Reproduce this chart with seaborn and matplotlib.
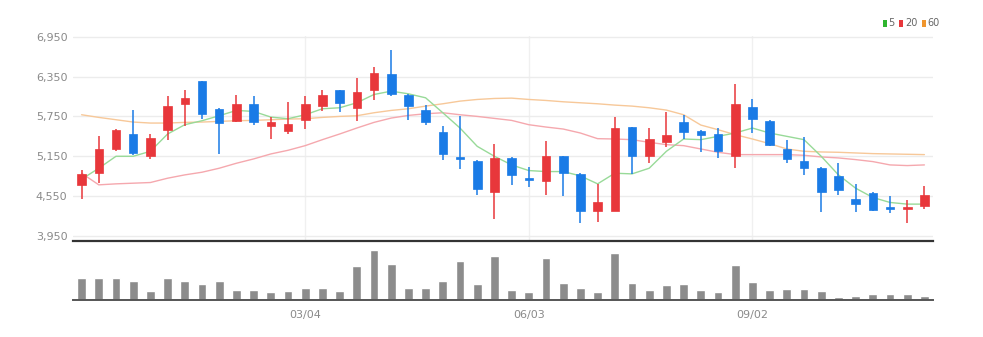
import numpy as np
import pandas as pd
import matplotlib
matplotlib.use("Agg")
import matplotlib.pyplot as plt
from matplotlib.patches import Rectangle
import seaborn as sns

# Weekly candles (KRW)
start_date = "2023-12-04"
n_weeks = 50
opens = [4720, 4905, 5255, 5485, 5150, 5550, 5930, 6285, 5865, 5685,
         5930, 5600, 5525, 5690, 5900, 6145, 5870, 6145, 6390, 6070,
         5840, 5510, 5135, 5085, 4605, 5130, 4830, 4780, 5155, 4880,
         4330, 4330, 5585, 5155, 5365, 5665, 5535, 5485, 5150, 5890,
         5685, 5265, 5085, 4980, 4855, 4505, 4595, 4390, 4355, 4405]
highs = [4945, 5450, 5560, 5845, 5480, 6055, 6145, 6290, 5870, 6070,
         6055, 5740, 5965, 6055, 6140, 6150, 6330, 6490, 6750, 6080,
         5915, 5600, 5750, 5095, 5335, 5140, 4995, 5385, 5160, 4905,
         4735, 5735, 5595, 5575, 5820, 5775, 5545, 5575, 6245, 6005,
         5700, 5390, 5435, 4990, 5045, 4735, 4610, 4545, 4495, 4710]
lows = [4505, 4755, 5235, 5175, 5110, 5390, 5600, 5710, 5185, 5660,
        5620, 5410, 5485, 5560, 5825, 5810, 5685, 5990, 6055, 5700,
        5620, 5100, 4955, 4560, 4200, 4720, 4695, 4570, 4545, 4140,
        4165, 4320, 4880, 5045, 5285, 5415, 5215, 5130, 4980, 5500,
        5310, 5055, 4870, 4310, 4560, 4315, 4330, 4295, 4150, 4355]
closes = [4885, 5260, 5545, 5200, 5430, 5900, 6030, 5790, 5650, 5940,
          5660, 5660, 5640, 5940, 6065, 5955, 6120, 6405, 6090, 5900,
          5670, 5185, 5115, 4660, 5130, 4870, 4790, 5160, 4905, 4330,
          4455, 5575, 5155, 5410, 5475, 5520, 5465, 5235, 5940, 5715,
          5320, 5115, 4980, 4605, 4635, 4430, 4345, 4360, 4390, 4565]
volumes = [68, 68, 66, 58, 27, 68, 58, 50, 59, 30,
           30, 25, 27, 38, 36, 27, 105, 152, 110, 36,
           36, 59, 118, 48, 133, 32, 23, 127, 53, 38,
           25, 145, 53, 32, 46, 49, 30, 25, 108, 55,
           30, 35, 35, 27, 8, 11, 17, 19, 18, 13]
volumes = [v * 1000 for v in volumes]

# Moving averages as published alongside the candles
ma5 = [4805, 4970, 5150, 5150, 5225, 5485, 5625, 5685, 5760, 5840,
       5825, 5740, 5715, 5775, 5865, 5880, 5955, 6080, 6130, 6090,
       6030, 5805, 5575, 5300, 5150, 5020, 4935, 4920, 4920, 4855,
       4735, 4895, 4885, 4970, 5225, 5410, 5400, 5450, 5500, 5575,
       5500, 5450, 5400, 5150, 4870, 4670, 4530, 4455, 4430, 4430]
ma20 = [4895, 4720, 4735, 4745, 4755, 4820, 4870, 4910, 4970, 5045,
        5110, 5185, 5240, 5310, 5400, 5485, 5575, 5660, 5725, 5765,
        5790, 5805, 5775, 5750, 5720, 5690, 5625, 5590, 5560, 5500,
        5415, 5410, 5400, 5360, 5325, 5310, 5260, 5210, 5175, 5175,
        5175, 5175, 5165, 5140, 5125, 5100, 5070, 5020, 5010, 5020]
ma60 = [5775, 5735, 5700, 5665, 5650, 5650, 5660, 5665, 5675, 5685,
        5690, 5700, 5710, 5715, 5735, 5750, 5760, 5805, 5840, 5865,
        5905, 5940, 5980, 6005, 6020, 6025, 6005, 5990, 5970, 5955,
        5940, 5920, 5905, 5880, 5845, 5775, 5620, 5550, 5475, 5410,
        5340, 5260, 5225, 5215, 5210, 5200, 5190, 5185, 5180, 5175]

ma_names = ["5", "20", "60"]
ma_colors = ["#98da98", "#f5a8ae", "#f7c899"]
legend_colors = ["#2fb52f", "#e8373b", "#f0962e"]

tick_labels = ["03/04", "06/03", "09/02"]
y_ticks = [3950, 4550, 5150, 5750, 6350, 6950]

up_color = "#e8373b"
down_color = "#1a7be6"

dates = pd.date_range(start_date, periods=n_weeks, freq="7D")
df = pd.DataFrame({"date": dates, "open": opens, "high": highs, "low": lows,
                   "close": closes, "volume": volumes,
                   "ma5": ma5, "ma20": ma20, "ma60": ma60})
df["pos"] = np.arange(len(df))
tick_pos = [int(np.where(dates.strftime("%m/%d") == t)[0][0]) for t in tick_labels]

sns.set_theme(style="white")
plt.rcParams["font.family"] = ["Liberation Sans Narrow", "DejaVu Sans"]

W, H = 983, 337
fig = plt.figure(figsize=(W / 100, H / 100), dpi=100)
ax = fig.add_axes([73 / W, 96 / H, 860 / W, 205 / H])
axv = fig.add_axes([73 / W, 37 / H, 860 / W, 56 / H], sharex=ax)

# Price panel
ax.set_xlim(-0.5, n_weeks - 0.5)
ax.set_ylim(3875, 6960)
ax.set_yticks(y_ticks)
ax.set_yticklabels([f"{v:,}" for v in y_ticks], color="#8a8a8a", fontsize=8)
ax.tick_params(axis="y", length=0, pad=4)
ax.tick_params(axis="x", length=0, labelbottom=False)
ax.set_xticks(tick_pos)
ax.grid(True, axis="y", color="#ececec", lw=1)
ax.grid(True, axis="x", color="#f0f0f0", lw=1)
for s in ["top", "right", "left"]:
    ax.spines[s].set_visible(False)
ax.spines["bottom"].set_color("#333333")
ax.spines["bottom"].set_linewidth(1.6)

for name, col in zip(["ma60", "ma20", "ma5"], [ma_colors[2], ma_colors[1], ma_colors[0]]):
    sns.lineplot(data=df, x="pos", y=name, ax=ax, color=col, lw=1.0, zorder=2)
ax.set_xlabel("")
ax.set_ylabel("")

body_w = 0.5
for _, r in df.iterrows():
    up = r["close"] >= r["open"]
    c = up_color if up else down_color
    ax.vlines(r["pos"], r["low"], r["high"], color=c, lw=1.1, zorder=3)
    lo = min(r["open"], r["close"])
    h = max(abs(r["close"] - r["open"]), 25)
    ax.add_patch(Rectangle((r["pos"] - body_w / 2, lo), body_w, h,
                           facecolor=c, edgecolor=c, lw=0.5, zorder=4))

# Volume panel
sns.barplot(data=df, x="pos", y="volume", ax=axv, color="#8c8c8c",
            width=0.52, saturation=1, native_scale=True, zorder=2)
axv.set_xlim(-0.5, n_weeks - 0.5)
axv.set_ylim(0, 171000)
axv.set_yticks([])
axv.set_xlabel("")
axv.set_ylabel("")
axv.set_xticks(tick_pos)
axv.set_xticklabels(tick_labels, color="#8a8a8a", fontsize=8)
axv.tick_params(axis="x", length=4, width=1, color="#555555", pad=3, direction="out")
for s in ["top", "right", "left"]:
    axv.spines[s].set_visible(False)
axv.spines["bottom"].set_color("#555555")
axv.spines["bottom"].set_linewidth(1.4)

# Legend in the top-right corner, laid out from measured text widths
renderer = fig.canvas.get_renderer()
xs = 883.0
for name, col in zip(ma_names, legend_colors):
    fig.patches.append(Rectangle((xs / W, (H - 27) / H), 4 / W, 6.5 / H,
                                 transform=fig.transFigure, facecolor=col,
                                 edgecolor="none"))
    t = fig.text((xs + 5.5) / W, (H - 23.5) / H, name, fontsize=7,
                 color="#666666", va="center", ha="left")
    tw = t.get_window_extent(renderer=renderer).width
    xs = xs + 5.5 + tw + 4.5

fig.savefig("out.png", dpi=100, facecolor="white")
